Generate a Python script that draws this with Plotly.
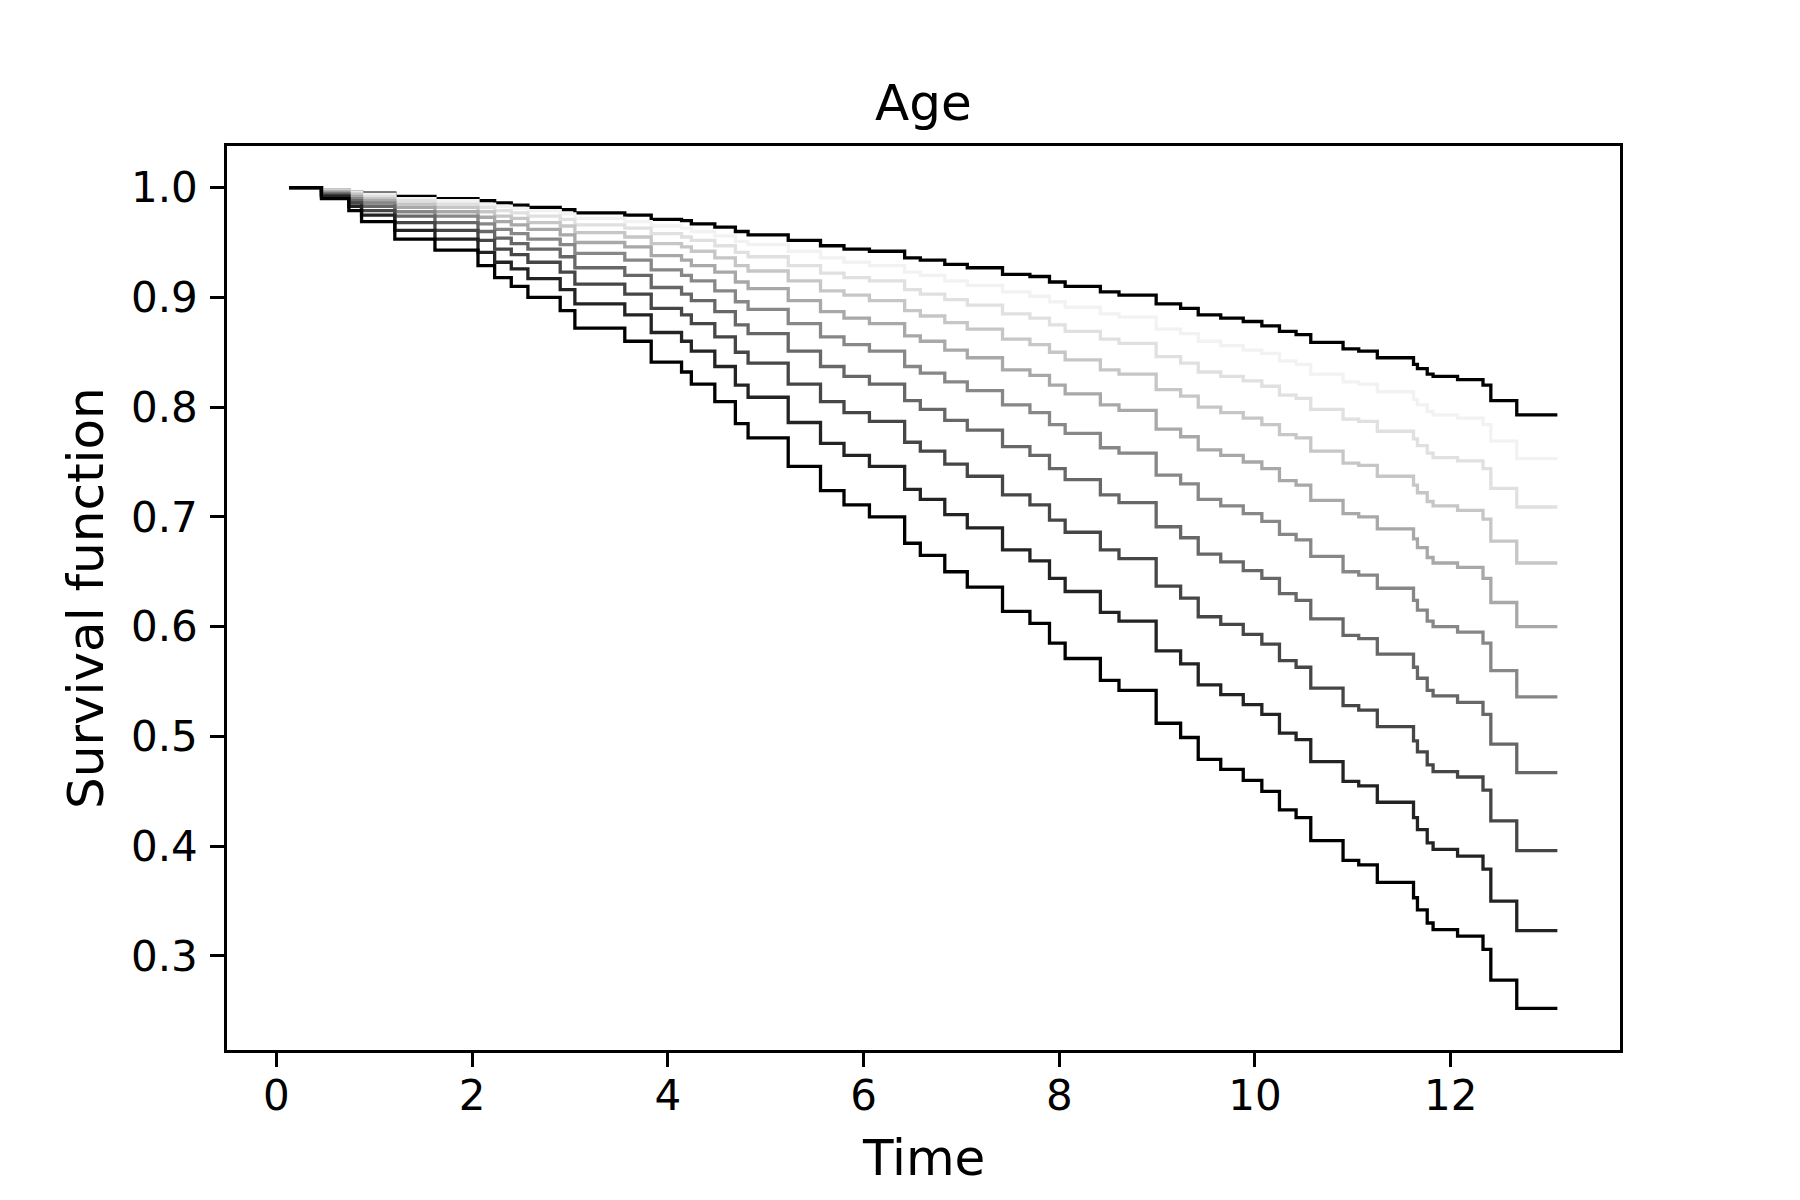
import plotly.graph_objects as go

# Shared step times (years)
times = [0.13, 0.46, 0.74, 0.87, 1.21, 1.62, 2.06, 2.23, 2.40, 2.57, 2.90, 3.05, 3.56, 3.83,
         4.14, 4.24, 4.48, 4.69, 4.82, 5.23, 5.56, 5.80, 6.06, 6.42, 6.58, 6.83, 7.06, 7.42,
         7.70, 7.90, 8.06, 8.42, 8.61, 8.99, 9.24, 9.42, 9.65, 9.88, 10.07, 10.25, 10.42, 10.57,
         10.90, 11.06, 11.25, 11.62, 11.66, 11.76, 11.82, 12.07, 12.33, 12.41, 12.675, 13.09]

surv_1 = [1.000, .998, .996, .995, .992, .990, .988, .986, .984, .982, .980, .977, .975, .971,
          .970, .967, .964, .960, .957, .952, .947, .944, .942, .936, .934, .930, .927, .921,
          .919, .914, .910, .905, .902, .894, .890, .884, .881, .878, .874, .869, .866, .859,
          .853, .851, .845, .839, .835, .830, .828, .825, .820, .806, .793, .793]
surv_2 = [1.000, .998, .996, .994, .990, .988, .985, .983, .981, .979, .976, .972, .969, .965,
          .963, .960, .956, .951, .948, .942, .936, .932, .929, .923, .920, .915, .911, .905,
          .901, .896, .891, .885, .882, .871, .867, .860, .856, .852, .849, .842, .839, .830,
          .823, .821, .814, .807, .802, .796, .793, .790, .784, .769, .753, .753]
surv_3 = [1.000, .997, .995, .992, .988, .985, .982, .979, .977, .974, .971, .966, .963, .958,
          .955, .952, .947, .941, .937, .929, .922, .918, .915, .907, .903, .898, .893, .885,
          .881, .875, .869, .862, .858, .846, .840, .832, .828, .824, .819, .811, .808, .798,
          .789, .787, .778, .771, .765, .758, .754, .751, .744, .726, .709, .709]
surv_4 = [1.000, .997, .994, .990, .985, .982, .978, .974, .972, .968, .965, .959, .955, .949,
          .946, .942, .936, .929, .924, .915, .906, .902, .897, .888, .883, .877, .871, .862,
          .857, .850, .843, .834, .830, .816, .810, .800, .795, .790, .784, .775, .772, .760,
          .749, .747, .737, .729, .722, .714, .710, .706, .698, .678, .658, .658]
surv_5 = [1.000, .996, .992, .988, .982, .978, .973, .969, .966, .962, .957, .950, .946, .938,
          .934, .929, .923, .914, .908, .897, .887, .881, .876, .865, .860, .852, .845, .834,
          .829, .820, .812, .802, .797, .780, .773, .761, .756, .750, .744, .733, .729, .715,
          .703, .700, .689, .680, .672, .663, .658, .654, .644, .622, .600, .600]
surv_6 = [1.000, .995, .990, .986, .978, .974, .967, .962, .958, .953, .948, .940, .934, .925,
          .920, .915, .906, .896, .889, .876, .864, .857, .851, .837, .831, .823, .815, .802,
          .795, .784, .776, .763, .758, .738, .730, .716, .710, .703, .696, .684, .679, .664,
          .650, .647, .635, .624, .615, .605, .600, .595, .585, .560, .536, .536]
surv_7 = [1.000, .994, .988, .983, .974, .968, .960, .954, .949, .944, .937, .927, .920, .909,
          .903, .897, .887, .875, .867, .851, .837, .828, .821, .806, .798, .788, .779, .764,
          .756, .744, .734, .720, .713, .691, .681, .666, .659, .651, .644, .630, .624, .607,
          .592, .589, .575, .563, .553, .542, .537, .531, .520, .493, .467, .467]
surv_8 = [1.000, .993, .986, .979, .968, .961, .952, .944, .939, .932, .923, .912, .903, .890,
          .884, .876, .864, .850, .840, .821, .805, .795, .787, .768, .760, .748, .737, .720,
          .711, .697, .686, .670, .662, .637, .626, .609, .602, .593, .584, .569, .563, .544,
          .528, .524, .509, .496, .486, .474, .468, .463, .451, .423, .396, .396]
surv_9 = [1.000, .992, .983, .975, .961, .953, .941, .932, .926, .917, .907, .894, .884, .868,
          .860, .851, .837, .820, .809, .786, .767, .756, .746, .725, .716, .702, .690, .670,
          .660, .644, .632, .613, .605, .578, .566, .547, .538, .529, .520, .503, .497, .477,
          .459, .455, .440, .426, .415, .403, .397, .391, .379, .350, .323, .323]
surv_10 = [1.000, .990, .979, .969, .953, .943, .929, .918, .910, .900, .888, .872, .860, .841,
           .832, .821, .805, .785, .772, .746, .724, .711, .700, .676, .665, .650, .636, .614,
           .603, .585, .571, .551, .542, .512, .499, .479, .470, .460, .450, .433, .426, .405,
           .387, .383, .367, .353, .342, .330, .324, .318, .306, .278, .2522, .2522]

curve_colors = ["#000000", "#f2f2f2", "#e0e0e0", "#c6c6c6", "#a8a8a8",
                "#878787", "#676767", "#464646", "#232323", "#000000"]

x_ticks = [0, 2, 4, 6, 8, 10, 12]
y_ticks = [0.3, 0.4, 0.5, 0.6, 0.7, 0.8, 0.9, 1.0]

all_curves = [surv_1, surv_2, surv_3, surv_4, surv_5, surv_6, surv_7, surv_8, surv_9, surv_10]

fig = go.Figure()
for vals, col in zip(all_curves, curve_colors):
    fig.add_trace(go.Scatter(x=times, y=vals, mode="lines", line_shape="hv",
                             line=dict(color=col, width=3.3), showlegend=False,
                             hoverinfo="skip"))

FONT = "DejaVu Sans"
axis_common = dict(showgrid=False, zeroline=False, showline=True, mirror=True,
                   linecolor="black", linewidth=2.7, ticks="outside", ticklen=14,
                   tickwidth=2.7, tickcolor="black",
                   tickfont=dict(family=FONT, size=42, color="black"))

# page body has a small margin: figure is slightly smaller and offset accordingly
W, H = 1790, 1190
ML, MR, MT, MB = 219, 178, 138, 148
PW, PH = W - ML - MR, H - MT - MB

fig.update_layout(
    width=W, height=H,
    margin=dict(l=ML, r=MR, t=MT, b=MB),
    paper_bgcolor="white", plot_bgcolor="white",
    xaxis=dict(range=[-0.505, 13.73], tickvals=x_ticks, ticklabelstandoff=-7, **axis_common),
    yaxis=dict(range=[0.2143, 1.0379], tickvals=y_ticks, tickformat=".1f",
               ticklabelstandoff=4, **axis_common),
    annotations=[
        dict(text="Age", xref="paper", yref="paper", x=0.5, y=(PH + 43) / PH,
             xanchor="center", yanchor="middle", showarrow=False,
             font=dict(family=FONT, size=50, color="black")),
        dict(text="Time", xref="paper", yref="paper", x=0.5, y=-108 / PH,
             xanchor="center", yanchor="middle", showarrow=False,
             font=dict(family=FONT, size=50, color="black")),
        dict(text="Survival function", xref="paper", yref="paper", x=-141 / PW,
             y=0.5, xanchor="center", yanchor="middle", textangle=-90, showarrow=False,
             font=dict(family=FONT, size=50, color="black")),
    ],
)

fig.write_html("out.html")
